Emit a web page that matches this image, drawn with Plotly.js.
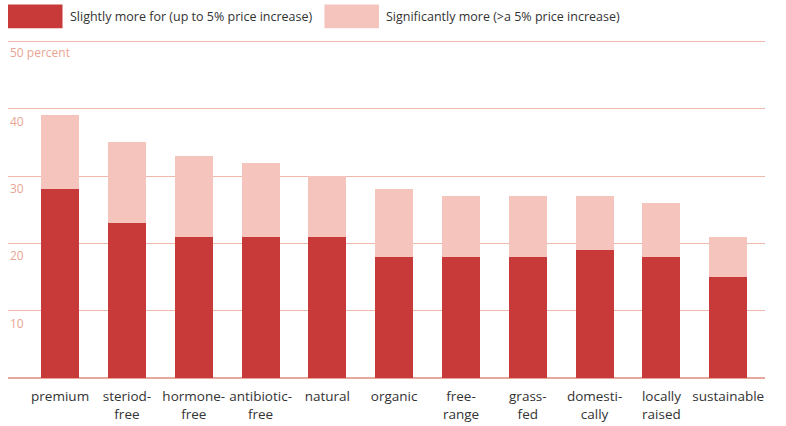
<!DOCTYPE html>
<html><head><meta charset="utf-8">
<script src="https://cdn.plot.ly/plotly-3.0.1.min.js"></script>
<style>body{margin:0}#plot{width:786px;height:426px}</style>
</head><body><div id="plot"></div>
<script>
var categories = ["premium","steriod-<br>free","hormone-<br>free","antibiotic-<br>free","natural","organic","free-<br>range","grass-<br>fed","domesti-<br>cally","locally<br>raised","sustainable"];
var slightly = [28,23,21,21,21,18,18,18,19,18,15];
var total = [39,35,33,32,30,28,27,27,27,26,21];
var significantly = total.map(function(t,i){return t - slightly[i];});
var yTicks = [10,20,30,40];

var dark = "#c8393a", light = "#f5c4bc", grid = "#f0b7ad", tickCol = "#e9a594";

var data = [
  {type:"bar", x:categories, y:slightly, marker:{color:dark}, hoverinfo:"y"},
  {type:"bar", x:categories, y:significantly, marker:{color:light}, hoverinfo:"y"}
];

var ann = yTicks.map(function(v){
  return {xref:"paper", yref:"y", x:0, y:v, xanchor:"left", yanchor:"top", yshift:-2,
    text:String(v), showarrow:false, font:{size:12, color:tickCol}};
});
ann.push({xref:"paper", yref:"y", x:0, y:50, xanchor:"left", yanchor:"top", yshift:-1,
  text:"50 percent", showarrow:false, font:{size:12, color:tickCol}});
ann.push({xref:"paper", yref:"paper", x:0.079, y:1.07, xanchor:"left", yanchor:"middle",
  text:"Slightly more for (up to 5% price increase)", showarrow:false, font:{size:12.5, color:"#333"}});
ann.push({xref:"paper", yref:"paper", x:0.497, y:1.07, xanchor:"left", yanchor:"middle",
  text:"Significantly more (>a 5% price increase)", showarrow:false, font:{size:12.5, color:"#333"}});

var layout = {
  width:786, height:426,
  margin:{l:8, r:21, t:40, b:48},
  barmode:"stack", bargap:0.43, showlegend:false,
  paper_bgcolor:"#fff", plot_bgcolor:"#fff",
  font:{family:"Open Sans, Arial, sans-serif", color:"#333"},
  xaxis:{range:[-0.78,10.55], tickfont:{size:13.5, color:"#333"}, showline:false, ticks:"outside", ticklen:6, tickcolor:"rgba(0,0,0,0)", automargin:false},
  yaxis:{range:[0,50.2], tickvals:[0,10,20,30,40,50], showticklabels:false, gridcolor:grid, gridwidth:1, zeroline:true, zerolinecolor:"#e6a89c", zerolinewidth:2},
  annotations:ann,
  shapes:[
    {type:"rect", xref:"paper", yref:"paper", x0:0, x1:0.072, y0:1.035, y1:1.105, fillcolor:dark, line:{width:0}},
    {type:"rect", xref:"paper", yref:"paper", x0:0.418, x1:0.49, y0:1.035, y1:1.105, fillcolor:light, line:{width:0}}
  ]
};
Plotly.newPlot("plot", data, layout, {displayModeBar:false});
</script></body></html>
